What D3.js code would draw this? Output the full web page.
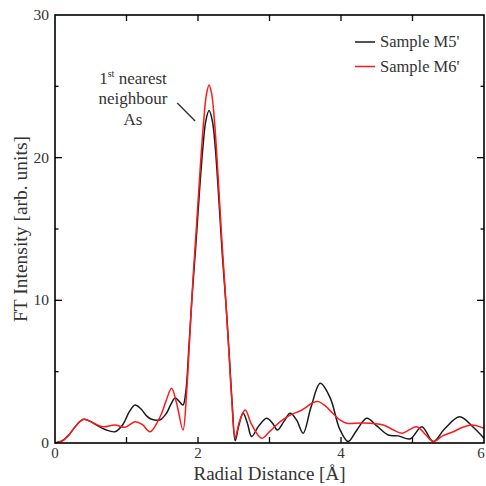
<!DOCTYPE html>
<html>
<head>
<meta charset="utf-8">
<script src="https://cdn.jsdelivr.net/npm/d3@7"></script>
<style>
  body { margin: 0; background: #fff; }
  text { font-family: "Liberation Serif", "DejaVu Serif", serif; fill: #333; }
</style>
</head>
<body>
<div id="chart"></div>
<script>
// Data
let m5R = [0, 0.1, 0.2, 0.3, 0.40, 0.5, 0.6, 0.7, 0.84, 0.95, 1.04, 1.12, 1.2, 1.28, 1.35, 1.47, 1.56, 1.62, 1.68, 1.74, 1.79, 1.83, 1.87, 1.92, 1.97, 2.02, 2.07, 2.11, 2.155, 2.20, 2.24, 2.29, 2.34, 2.39, 2.44, 2.48, 2.52, 2.57, 2.63, 2.69, 2.75, 2.85, 2.96, 3.04, 3.11, 3.2, 3.29, 3.38, 3.47, 3.58, 3.71, 3.85, 3.98, 4.10, 4.22, 4.36, 4.5, 4.66, 4.8, 4.97, 5.13, 5.29, 5.45, 5.66, 5.85, 6.0];
let m5V = [0, 0.15, 0.6, 1.25, 1.66, 1.5, 1.2, 0.95, 0.79, 1.3, 2.2, 2.66, 2.4, 1.9, 1.66, 1.63, 2.1, 2.7, 3.15, 2.9, 2.66, 3.6, 6.5, 10.5, 13.9, 17.6, 20.8, 22.6, 23.3, 22.6, 20.8, 17.2, 13.2, 9.8, 5.9, 2.6, 0.16, 1.2, 2.1, 1.4, 0.45, 1.2, 1.73, 1.4, 0.91, 1.5, 2.08, 1.6, 0.68, 2.5, 4.18, 3.15, 1.0, 0.1, 0.9, 1.73, 1.2, 0.56, 0.5, 0.3, 1.14, 0.1, 1.0, 1.84, 1.1, 0.33];

let m6R = [0, 0.1, 0.2, 0.3, 0.40, 0.5, 0.6, 0.68, 0.84, 0.98, 1.12, 1.22, 1.33, 1.47, 1.55, 1.63, 1.70, 1.79, 1.84, 1.88, 1.93, 1.98, 2.03, 2.08, 2.12, 2.155, 2.19, 2.23, 2.28, 2.33, 2.38, 2.43, 2.47, 2.52, 2.58, 2.66, 2.75, 2.89, 3.0, 3.15, 3.29, 3.45, 3.60, 3.68, 3.78, 3.88, 3.99, 4.08, 4.3, 4.59, 4.72, 4.85, 5.06, 5.18, 5.29, 5.42, 5.57, 5.7, 5.83, 6.0];
let m6V = [0, 0.15, 0.6, 1.25, 1.66, 1.5, 1.25, 1.14, 1.26, 1.1, 1.49, 1.3, 0.79, 1.84, 2.9, 3.83, 2.8, 0.91, 3.5, 7.0, 11.5, 15.3, 19.2, 22.6, 24.5, 25.1, 24.5, 22.6, 18.8, 14.5, 10.7, 6.6, 3.2, 0.4, 1.5, 2.31, 1.3, 0.33, 0.8, 1.5, 1.96, 2.3, 2.8, 2.9, 2.6, 2.1, 1.6, 1.38, 1.4, 1.26, 0.95, 0.68, 1.14, 0.6, 0.1, 0.5, 0.79, 1.1, 1.26, 1.03];

let seriesNames = ["Sample M5'", "Sample M6'"];
let seriesColors = ["#1a1a1a", "#ff1a1a"];
let xTicks = [0, 1, 2, 3, 4, 5, 6];
let xLabels = [0, 2, 4, 6];
let yTicks = [0, 5, 10, 15, 20, 25, 30];
let yLabels = [0, 10, 20, 30];

// Dimensions of the plot
let dim = { top: 15, right: 2, bottom: 43, left: 55 };
let width = 486 - dim.left - dim.right;
let height = 486 - dim.top - dim.bottom;

let svg = d3.select("#chart")
  .append("svg")
  .attr("width", 486)
  .attr("height", 486)
  .append("g")
  .attr("transform", "translate(" + dim.left + "," + dim.top + ")");

let x = d3.scaleLinear().domain([0, 6]).range([0, width]);
let y = d3.scaleLinear().domain([0, 30]).range([height, 0]);

// inward ticks on all four sides
let tickG = svg.append("g").attr("stroke", "#000").attr("stroke-width", 1.3);
xTicks.slice(1, -1).forEach(t => {
  tickG.append("line").attr("x1", x(t)).attr("x2", x(t)).attr("y1", height).attr("y2", height - 6);
  tickG.append("line").attr("x1", x(t)).attr("x2", x(t)).attr("y1", 0).attr("y2", 6);
});
yTicks.slice(1, -1).forEach(t => {
  let len = (t % 10 === 0) ? 7 : 3.5;
  tickG.append("line").attr("x1", 0).attr("x2", len).attr("y1", y(t)).attr("y2", y(t));
  tickG.append("line").attr("x1", width).attr("x2", width - len).attr("y1", y(t)).attr("y2", y(t));
});

// tick labels (last one nudged so it stays on the page)
svg.selectAll(".xl").data(xLabels).enter().append("text")
  .attr("x", d => d === 6 ? x(d) - 3 : x(d))
  .attr("y", height + 15)
  .attr("text-anchor", "middle")
  .attr("font-size", "15px")
  .text(d => d);

svg.selectAll(".yl").data(yLabels).enter().append("text")
  .attr("x", -6)
  .attr("y", d => y(d) + 5)
  .attr("text-anchor", "end")
  .attr("font-size", "15.5px")
  .text(d => d);

// Axis titles
svg.append("text")
  .attr("x", width / 2)
  .attr("y", height + 37)
  .attr("text-anchor", "middle")
  .attr("font-size", "19px")
  .text("Radial Distance [Å]");

svg.append("text")
  .attr("transform", "translate(" + (-28) + "," + (height / 2) + ") rotate(-90)")
  .attr("text-anchor", "middle")
  .attr("font-size", "19.5px")
  .text("FT Intensity [arb. units]");

// curves
let line = d3.line()
  .x(d => x(d[0]))
  .y(d => y(d[1]))
  .curve(d3.curveCatmullRom.alpha(0.5));

let sets = [d3.zip(m5R, m5V), d3.zip(m6R, m6V)];
sets.forEach((s, i) => {
  svg.append("path")
    .datum(s)
    .attr("fill", "none")
    .attr("stroke", seriesColors[i])
    .attr("stroke-width", 1.5)
    .attr("d", line);
});

// frame
svg.append("rect")
  .attr("width", width)
  .attr("height", height)
  .attr("fill", "none")
  .attr("stroke", "#000")
  .attr("stroke-width", 1.6);

// Legend
seriesNames.forEach((n, i) => {
  let ly = 27 + i * 24.5;
  svg.append("line")
    .attr("x1", 300).attr("x2", 320)
    .attr("y1", ly).attr("y2", ly)
    .attr("stroke", seriesColors[i])
    .attr("stroke-width", 1.5);
  svg.append("text")
    .attr("x", 325)
    .attr("y", ly + 5)
    .attr("font-size", "16.5px")
    .text(n);
});

// annotation
let ann = svg.append("text")
  .attr("text-anchor", "middle")
  .attr("font-size", "17px");
let l1 = ann.append("tspan").attr("x", 78).attr("y", 69);
l1.append("tspan").text("1");
l1.append("tspan").attr("font-size", "10px").attr("dy", -7).text("st");
l1.append("tspan").attr("dy", 7).text(" nearest");
ann.append("tspan").attr("x", 78).attr("y", 89).text("neighbour");
ann.append("tspan").attr("x", 78).attr("y", 110).text("As");

svg.append("line")
  .attr("x1", x(1.71)).attr("y1", 88)
  .attr("x2", x(1.96)).attr("y2", 106)
  .attr("stroke", "#333")
  .attr("stroke-width", 1.4);
</script>
</body>
</html>
